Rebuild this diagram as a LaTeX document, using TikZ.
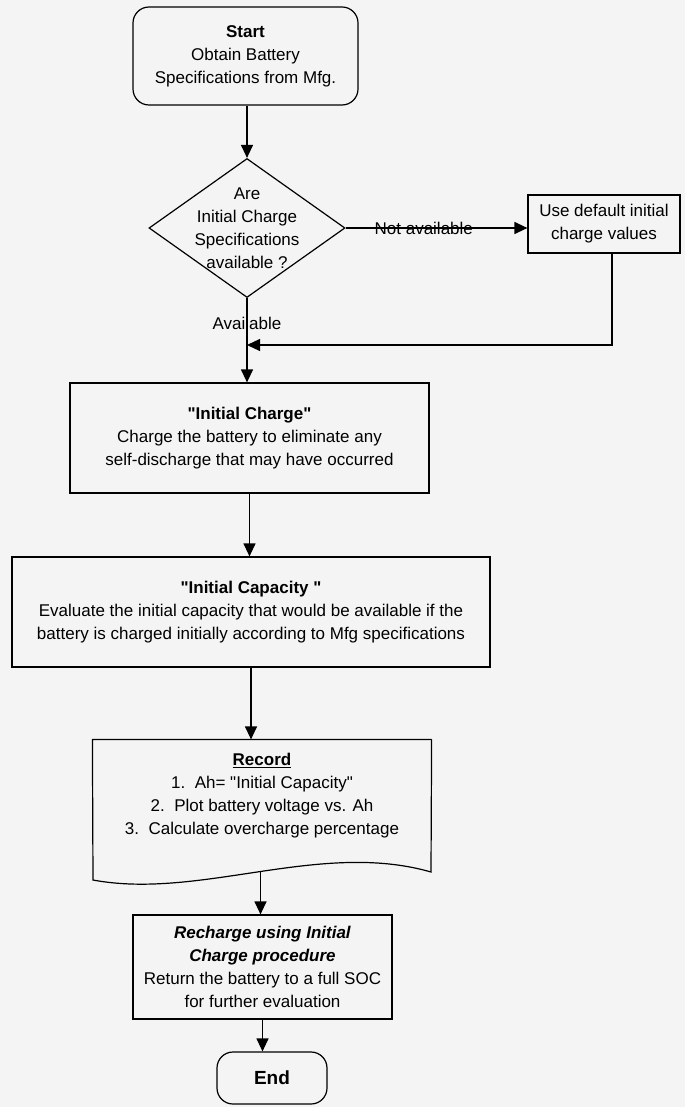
\documentclass[tikz,border=0pt]{standalone}
\usepackage{fontspec}
\setmainfont{Liberation Sans}[Ligatures=TeXOff]
\usetikzlibrary{arrows.meta,shapes.geometric}
\definecolor{bg}{HTML}{F4F4F4}
\newcommand{\bodyfs}{\fontsize{17}{23}\selectfont}
\begin{document}
\begin{tikzpicture}[x=1pt,y=-1pt,line width=1.2pt,
  >={Triangle[length=13pt,width=12pt]},
  txt/.style={align=center,inner sep=0pt,font=\bodyfs},
  box/.style={draw,rectangle,align=center,inner sep=0pt,font=\bodyfs},
  term/.style={draw,rectangle,rounded corners=16pt,align=center,inner sep=0pt,font=\bodyfs},
  lbl/.style={inner sep=0pt,font=\bodyfs}]
\fill[bg] (0,0) rectangle (685,1107);
\useasboundingbox (0,0) rectangle (685,1107);

% nodes
\node[term,minimum width=225pt,minimum height=98pt] (start) at (245.5,56)
  {\textbf{Start}\\Obtain Battery\\Specifications from Mfg.};
\node[draw,diamond,minimum width=196pt,minimum height=139pt,inner sep=0pt] (dec) at (247,228) {};
\node[txt] (dectext) at (dec.center) {Are\\Initial Charge\\Specifications\\available ?};
\node[box,minimum width=152pt,minimum height=58pt] (def) at (604,224)
  {Use default initial\\charge values};
\node[box,minimum width=359pt,minimum height=110pt] (ic) at (249.5,438)
  {\textbf{"Initial Charge"}\\Charge the battery to eliminate any\\self-discharge that may have occurred};
\node[box,minimum width=478pt,minimum height=110pt] (icap) at (251,612)
  {\textbf{"Initial Capacity "}\\Evaluate the initial capacity that would be available if the\\battery is charged initially according to Mfg specifications};
\node[minimum width=338pt,minimum height=132pt,inner sep=0pt] (rec) at (262,806) {};
\node[txt] (rectext) at (262,796)
  {\underline{\textbf{Record}}\\1.\ \ Ah= "Initial Capacity"\\2.\ \ Plot battery voltage vs. Ah\\3.\ \ Calculate overcharge percentage};
\node[box,minimum width=259pt,minimum height=104pt] (rech) at (262.5,967)
  {\textbf{\textit{Recharge using Initial}}\\\textbf{\textit{Charge procedure}}\\Return the battery to a full SOC\\for further evaluation};
\node[term,minimum width=110pt,minimum height=52pt,font=\bfseries\fontsize{19}{22}\selectfont] (end) at (272,1078) {End};

% document shape
\draw (rec.north east) -- (rec.north west) -- (93,880)
  .. controls (200,900) and (320,840) .. (431,872) coordinate[pos=0.5] (wave)
  -- (rec.north east);

% connectors
\coordinate (join) at (247,345);
\draw[->] (dec.north |- start.south) -- (dec.north);
\draw[->] (dec.east) -- (dec.east -| def.west) node[lbl,pos=0.43] {Not available};
\draw[->] ([xshift=8pt]def.south) |- (join);
\draw[->] (dec.south) -- (dec.south |- ic.north) node[lbl,pos=0.3] {Available};
\draw[->] (ic.south) -- (ic.south |- icap.north);
\draw[->] (icap.south) -- (icap.south |- rec.north);
\draw[->] (wave) -- (wave |- rech.north);
\draw[->] (rech.south) -- (rech.south |- end.north);
\end{tikzpicture}
\end{document}
